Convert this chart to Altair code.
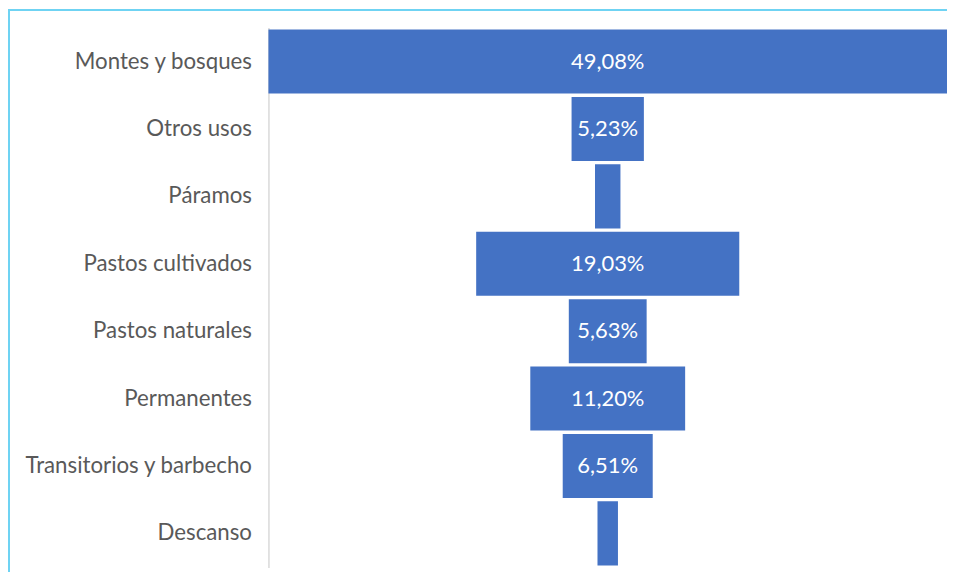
import altair as alt
import pandas as pd

categories = ["Montes y bosques", "Otros usos", "Páramos", "Pastos cultivados",
              "Pastos naturales", "Permanentes", "Transitorios y barbecho", "Descanso"]
values = [49.08, 5.23, 1.84, 19.03, 5.63, 11.20, 6.51, 1.48]
show_label = [True, True, False, True, True, True, True, False]

labels = [(f"{v:.2f}".replace(".", ",") + "%") if s else "" for v, s in zip(values, show_label)]
df = pd.DataFrame({"cat": categories, "val": values, "lab": labels})

half = max(values) / 2
FONT = "Lato"

y_enc = alt.Y("cat:N", sort=categories, title=None,
              scale=alt.Scale(paddingInner=0.05, paddingOuter=0.03),
              axis=alt.Axis(domainColor="#d9d9d9", domainWidth=1.5, ticks=False,
                            labelFontSize=22.3, labelFont=FONT, labelColor="#595959",
                            labelPadding=17, labelLimit=300))
x_scale = alt.Scale(domain=[-half, half], nice=False, zero=False)

base = alt.Chart(df).transform_calculate(lo="-datum.val/2", hi="datum.val/2")

bars = base.mark_bar(color="#4472c4").encode(
    x=alt.X("lo:Q", scale=x_scale, axis=None),
    x2="hi:Q",
    y=y_enc,
)

text = base.mark_text(color="white", fontSize=22, font=FONT).encode(
    x=alt.X("zero:Q", scale=x_scale, axis=None),
    y=alt.Y("cat:N", sort=categories),
    text="lab:N",
).transform_calculate(zero="0")

border_top = alt.Chart(df).mark_rule(color="#6fd3f3", strokeWidth=2).encode(
    x=alt.value(-260), x2=alt.value(700), y=alt.value(-17.5))
border_left = alt.Chart(df).mark_rule(color="#6fd3f3", strokeWidth=2).encode(
    x=alt.value(-260.5), y=alt.value(-18), y2=alt.value(560))

chart = alt.layer(bars, text, border_top, border_left).properties(
    width=680, height=541,
    padding={"left": 261, "top": 19, "right": 0, "bottom": 4},
    autosize="none",
    background="white",
).configure_view(stroke="transparent", strokeWidth=0)

chart.save("out.html", embed_options={"renderer": "svg", "actions": False})
